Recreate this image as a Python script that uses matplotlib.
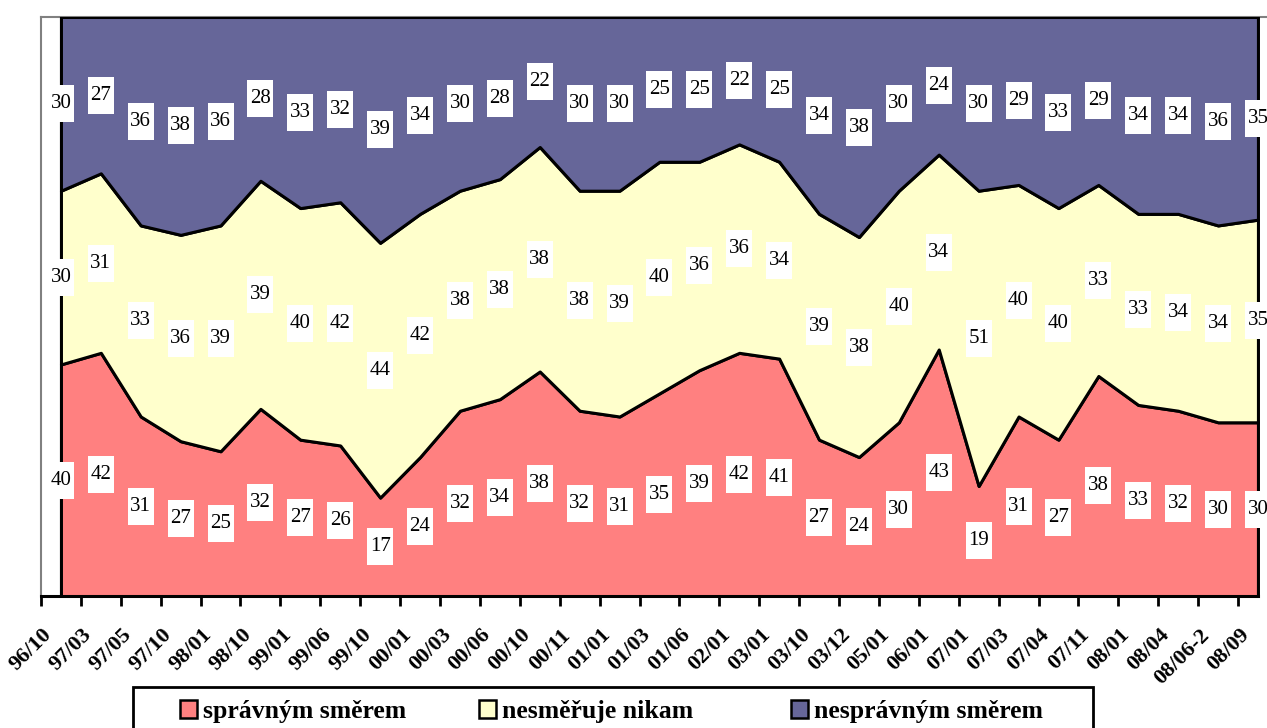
import matplotlib
matplotlib.use("Agg")
import matplotlib.pyplot as plt
import numpy as np
from matplotlib.patches import Patch, Rectangle

categories = ["96/10", "97/03", "97/05", "97/10", "98/01", "98/10", "99/01", "99/06", "99/10",
              "00/01", "00/03", "00/06", "00/10", "00/11", "01/01", "01/03", "01/06", "02/01",
              "03/01", "03/10", "03/12", "05/01", "06/01", "07/01", "07/03", "07/04", "07/11",
              "08/01", "08/04", "08/06-2", "08/09"]
spravnym = [40, 42, 31, 27, 25, 32, 27, 26, 17, 24, 32, 34, 38, 32, 31, 35, 39, 42, 41, 27,
            24, 30, 43, 19, 31, 27, 38, 33, 32, 30, 30]
nesmeruje = [30, 31, 33, 36, 39, 39, 40, 42, 44, 42, 38, 38, 38, 38, 39, 40, 36, 36, 34, 39,
             38, 40, 34, 51, 40, 40, 33, 33, 34, 34, 35]
nespravnym = [30, 27, 36, 38, 36, 28, 33, 32, 39, 34, 30, 28, 22, 30, 30, 25, 25, 22, 25, 34,
              38, 30, 24, 30, 29, 33, 29, 34, 34, 36, 35]
series_names = ["správným směrem", "nesměřuje nikam", "nesprávným směrem"]
colors = ["#FF8080", "#FFFFCC", "#666699"]

W, H = 1267, 728
fig = plt.figure(figsize=(W / 100, H / 100), dpi=100)
serif = ["Liberation Serif", "DejaVu Serif"]

left_px, right_px, top_px, bot_px = 41, 1300, 17, 596
ax = fig.add_axes([left_px / W, (H - bot_px) / H, (right_px - left_px) / W, (bot_px - top_px) / H])

data = np.array([spravnym, nesmeruje, nespravnym], dtype=float)
pct = data / data.sum(axis=0) * 100
x = np.arange(len(categories))

step = 39.9
ax.set_xlim(-0.5, -0.5 + (right_px - left_px) / step)
ax.set_ylim(0, 100)

bottom = np.zeros(len(x))
for vals, col in zip(pct, colors):
    top = bottom + vals
    ax.fill_between(x, bottom, top, facecolor=col, edgecolor="black", linewidth=2.2, zorder=3)
    bottom = top

# data labels
box_verts = [(-13, -18.5), (13, -18.5), (13, 18.5), (-13, 18.5), (-13, -18.5)]
bottom = np.zeros(len(x))
for vals, raw in zip(pct, data):
    mid = bottom + vals / 2
    ax.scatter(x, mid, marker=box_verts, s=(37 * 0.72) ** 2, c="white", edgecolors="none",
               zorder=4, clip_on=False)
    for xi, yi, v in zip(x, mid, raw):
        ax.text(xi, yi, f"{int(v)}", ha="center", va="center", fontsize=15,
                family=serif, zorder=5, clip_on=False)
    bottom = bottom + vals

# spines
for s in ["top", "left"]:
    ax.spines[s].set_color("#808080")
    ax.spines[s].set_linewidth(1.5)
    ax.spines[s].set_zorder(1)
ax.spines["right"].set_visible(False)
ax.spines["bottom"].set_color("black")
ax.spines["bottom"].set_linewidth(2.2)
ax.spines["bottom"].set_bounds(-0.5, 30)

ax.set_yticks([])
ax.set_xticks(x - 0.5)
ax.set_xticklabels([])
ax.tick_params(axis="x", which="major", direction="out", length=7, width=2, color="black")
ax.set_xticks(x - 0.3, minor=True)
ax.set_xticklabels(categories, minor=True, rotation=45, ha="right", va="center",
                   rotation_mode="anchor", fontsize=16, fontweight="bold", family=serif)
ax.tick_params(axis="x", which="minor", length=0, pad=26)

# legend: one entry per box position
legend_x = [180, 479, 791]
prop = {"family": serif, "weight": "bold", "size": 18.5}
for name, col, lx in zip(series_names, colors, legend_x):
    lg = fig.legend([Patch(facecolor=col, edgecolor="black", linewidth=1.8)], [name],
                    loc="upper left", bbox_to_anchor=(lx / W, 1 - 700 / H), frameon=False,
                    prop=prop, handlelength=0.65, handleheight=0.65, handletextpad=0.25,
                    borderpad=0, borderaxespad=0)
fig.patches.append(Rectangle((133 / W, -0.05), (1093 - 133) / W, 0.05 + (H - 687) / H,
                             transform=fig.transFigure, facecolor="white",
                             edgecolor="black", linewidth=2, zorder=0))

fig.savefig("out.png", dpi=100)
